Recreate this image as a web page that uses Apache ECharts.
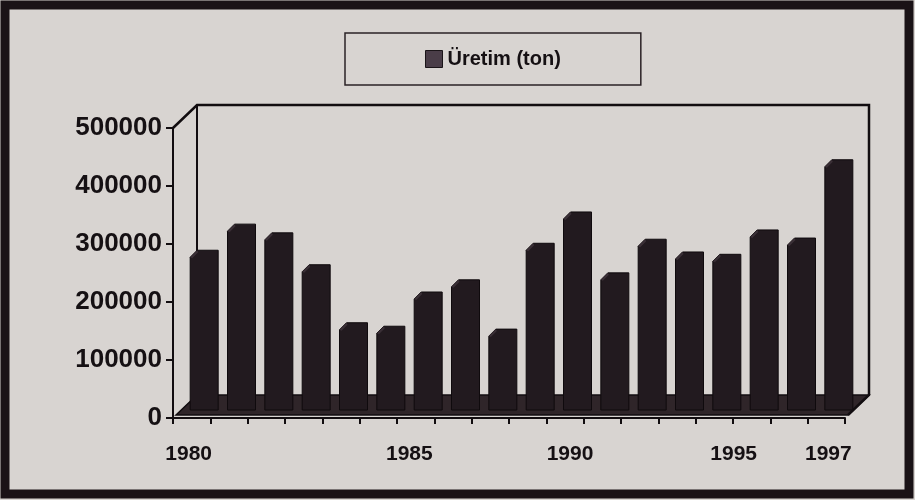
<!DOCTYPE html>
<html>
<head>
<meta charset="utf-8">
<script src="https://cdn.jsdelivr.net/npm/echarts@6/dist/echarts.min.js"></script>
<style>
html,body{margin:0;padding:0;background:#d8d4d1;}
#c{width:915px;height:500px;}
</style>
</head>
<body>
<div id="c"></div>
<script>
// ---- data ----
const years = ['1980','1981','1982','1983','1984','1985','1986','1987','1988','1989','1990','1991','1992','1993','1994','1995','1996','1997'];
const production = [272000, 317000, 302000, 247000, 147000, 141000, 200000, 221000, 136000, 284000, 338000, 233000, 291000, 269000, 265000, 307000, 293000, 428000];
const shownYearLabels = ['1980','1985','1990','1995','1997'];
const seriesName = 'Üretim (ton)';

// ---- layout ----
const L = 173, T = 128, W = 672, H = 290;
const R = L + W, B = T + H;
const DX = 24, DY = 23;
const labelShift = {'1980': -3, '1985': 31, '1990': 5, '1995': -18, '1997': 2};

const rich = {};
shownYearLabels.forEach(y => {
  const s = labelShift[y] || 0;
  rich['y' + y] = {
    fontFamily: '"Liberation Sans",Arial,sans-serif',
    fontWeight: 'bold', fontSize: 21, color: '#151013',
    padding: s >= 0 ? [0, 0, 0, 2 * s] : [0, -2 * s, 0, 0]
  };
});

const chart = echarts.init(document.getElementById('c'), null, {renderer: 'canvas'});
const ink = '#120d10';

chart.setOption({
  backgroundColor: '#d8d4d1',
  animation: false,
  legend: {
    left: 345, top: 33,
    padding: [16, 80, 16, 80],
    borderColor: '#2a2226', borderWidth: 1.5,
    itemWidth: 17, itemHeight: 17, itemGap: 5,
    icon: 'rect',
    data: [{name: seriesName, itemStyle: {color: '#4a3d48', borderColor: '#1a1418', borderWidth: 1}}],
    textStyle: {fontFamily: '"Liberation Sans",Arial,sans-serif', fontWeight: 'bold', fontSize: 20, color: '#151013'}
  },
  grid: {left: L, top: T, width: W, height: H, containLabel: false},
  xAxis: {
    type: 'category', data: years, boundaryGap: true,
    axisLine: {show: true, lineStyle: {color: ink, width: 2}},
    axisTick: {show: true, interval: 0, length: 6, lineStyle: {color: ink, width: 2}},
    axisLabel: {
      interval: 0, margin: 26,
      formatter: v => shownYearLabels.indexOf(v) >= 0 ? '{y' + v + '|' + v + '}' : '',
      rich: rich
    },
    splitLine: {show: false}
  },
  yAxis: {
    type: 'value', min: 0, max: 500000, interval: 100000,
    axisLine: {show: true, lineStyle: {color: ink, width: 2}},
    axisTick: {show: true, length: 7, lineStyle: {color: ink, width: 2}},
    axisLabel: {margin: 11, formatter: v => String(v), fontFamily: '"Liberation Sans",Arial,sans-serif', fontWeight: 'bold', fontSize: 26, color: '#151013'},
    splitLine: {show: false}
  },
  graphic: [
    {type: 'rect', z: 0, shape: {x: 5, y: 5, width: 904, height: 489}, style: {fill: null, stroke: '#1a1216', lineWidth: 9}},
    {type: 'polygon', z: 0, shape: {points: [[L + 3, B - 3], [L + DX, B - DY], [R + DX, B - DY], [R + 3, B - 3]]},
      style: {fill: '#2f2529', stroke: ink, lineWidth: 1.5}},
    {type: 'polyline', z: 0, shape: {points: [[L, T], [L + DX, T - DY], [R + DX, T - DY], [R + DX, B - DY], [R + 3, B - 3]]},
      style: {stroke: ink, lineWidth: 2.5, fill: null}},
    {type: 'line', z: 0, shape: {x1: L + DX, y1: T - DY, x2: L + DX, y2: B - DY}, style: {stroke: ink, lineWidth: 2}}
  ],
  series: [{
    name: seriesName,
    type: 'custom',
    z: 5,
    itemStyle: {color: '#221a1f'},
    data: production.map((v, i) => [i, v]),
    encode: {x: 0, y: 1},
    renderItem: function (params, api) {
      const idx = api.value(0);
      const top = api.coord([idx, api.value(1)]);
      const base = api.coord([idx, 0]);
      const bw = api.size([1, 0])[0];
      const x0 = top[0] - bw * 0.04;
      const x1 = x0 + bw * 0.75;
      const yt = top[1] - 10;
      const yb = base[1] - 8;
      const c = 7;
      return {
        type: 'group',
        children: [
          {type: 'polygon', shape: {points: [[x0, yt + c], [x0 + c, yt], [x1, yt], [x1, yb], [x0, yb]]},
            style: {fill: '#221a1f', stroke: '#0f0a0d', lineWidth: 1}},
          {type: 'polygon', shape: {points: [[x0, yt + c], [x0 + c, yt], [x0 + c + 1, yt + 2], [x0 + 2, yt + c + 1]]},
            style: {fill: '#3a2f36'}}
        ]
      };
    }
  }]
});
</script>
</body>
</html>
